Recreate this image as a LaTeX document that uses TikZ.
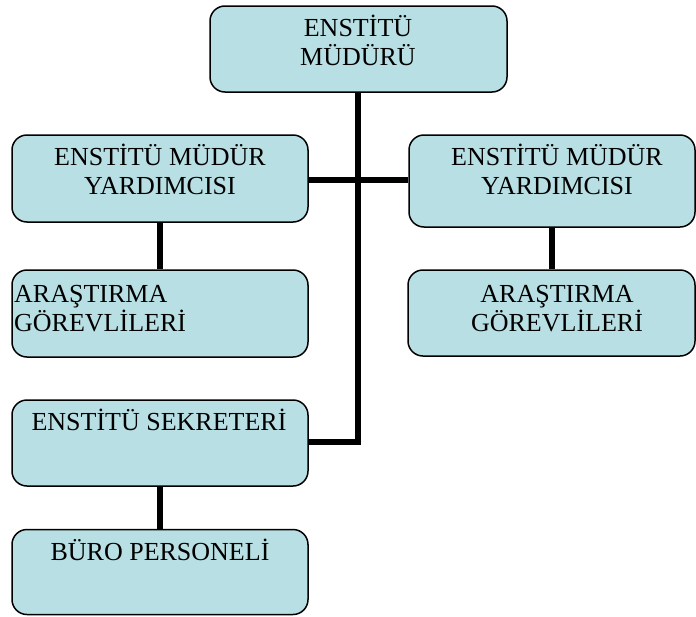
\documentclass[tikz,border=0pt]{standalone}
\usepackage{fontspec}
\setmainfont{Liberation Serif}
\definecolor{boxfill}{RGB}{184,223,227}
\begin{document}
\begin{tikzpicture}[x=1pt,y=-1pt,
  box/.style={draw=black,fill=boxfill,line width=1.5pt,rounded corners=15pt,inner sep=0pt},
  lbl/.style={anchor=base,inner sep=0pt,font=\fontsize{26}{28.5}\selectfont,align=center},
  lbll/.style={anchor=base west,inner sep=0pt,font=\fontsize{26}{28.5}\selectfont,align=left},
  conn/.style={line width=6pt}]
\useasboundingbox (0,0) rectangle (696,616);
% boxes
\node[box,minimum width=297pt,minimum height=86pt] (top) at (358.5,49) {};
\node[box,minimum width=296pt,minimum height=87pt] (lvp) at (160,178.5) {};
\node[box,minimum width=296pt,minimum height=87pt] (lar) at (160,313.5) {};
\node[box,minimum width=286pt,minimum height=92pt] (rvp) at (552,181) {};
\node[box,minimum width=287pt,minimum height=86pt] (rar) at (551.5,313) {};
\node[box,minimum width=296pt,minimum height=86pt] (sec) at (160,443) {};
\node[box,minimum width=296pt,minimum height=85pt] (buro) at (160,572) {};
% texts (two-line nodes: base anchor is the last line's baseline)
\node[lbl] (ttop) at (358,65) {ENSTİTÜ\\MÜDÜRÜ};
\node[lbl] (tlvp) at (160,194) {ENSTİTÜ MÜDÜR\\YARDIMCISI};
\node[lbll] (tlar) at (14,331) {ARAŞTIRMA\\GÖREVLİLERİ};
\node[lbl] (trvp) at (557,194) {ENSTİTÜ MÜDÜR\\YARDIMCISI};
\node[lbl] (trar) at (557,331) {ARAŞTIRMA\\GÖREVLİLERİ};
\node[lbl] (tsec) at (159,430) {ENSTİTÜ SEKRETERİ};
\node[lbl] (tburo) at (160,560) {BÜRO PERSONELİ};
% connectors
\coordinate (j1) at (358,180);
\coordinate (j2) at (358,441.5);
\draw[conn] (top.south -| j1) -- (j1) -- (j2) -- (j2 -| sec.east);
\draw[conn] (j1 -| lvp.east) -- (j1 -| rvp.west);
\draw[conn] (lvp.south) -- (lar.north);
\draw[conn] (rvp.south -| rar.north) -- (rar.north);
\draw[conn] (sec.south) -- (buro.north);
\end{tikzpicture}
\end{document}
